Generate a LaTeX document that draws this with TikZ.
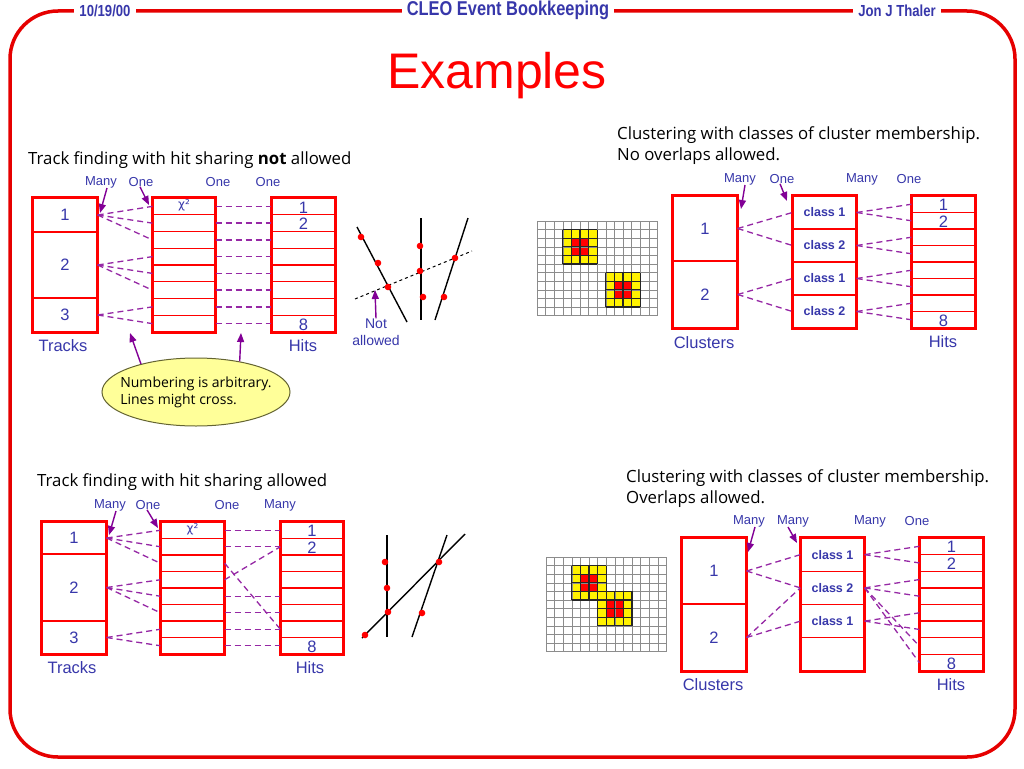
\documentclass[tikz,border=0pt]{standalone}
\usepackage{fontspec}
\setmainfont{Liberation Sans}
\newfontfamily\lsans{Liberation Sans}
\newfontfamily\dvsans{DejaVu Sans}
\newfontfamily\narrowfont[FakeStretch=0.82]{Liberation Sans}
\newfontfamily\comicfont{Open Sans}
\usetikzlibrary{arrows.meta,shapes.geometric}
\definecolor{tblue}{RGB}{55,55,170}
\definecolor{lpurple}{RGB}{150,40,165}
\definecolor{apurple}{RGB}{130,0,150}
\definecolor{noteyellow}{RGB}{255,255,153}
\definecolor{noteedge}{RGB}{100,100,50}
\definecolor{framered}{RGB}{230,0,0}
\begin{document}
\begin{tikzpicture}[x=1pt,y=-1pt,
  lbl/.style={text=tblue, font=\lsans\fontsize{13}{15}\selectfont, inner sep=0},
  num/.style={text=tblue, font=\lsans\fontsize{16.5}{18}\selectfont, inner sep=0},
  cls/.style={text=tblue, font=\lsans\bfseries\fontsize{12.5}{14}\selectfont, inner sep=0},
  chi/.style={text=tblue, font=\dvsans\fontsize{12}{14}\selectfont, inner sep=0},
  cell/.style={draw=red, line width=1.3pt, inner sep=0, minimum width=#1},
  bigbox/.style={draw=red, line width=3.5pt},
  link/.style={draw=lpurple, line width=1.3pt, dash pattern=on 6pt off 4pt},
  parrow/.style={draw=apurple, line width=1.4pt, -{Triangle[length=9pt,width=7pt]}},
  hdr/.style={fill=white, text=tblue, inner xsep=5pt, inner ysep=1pt},
  ttl/.style={anchor=west, font=\comicfont\fontsize{16.8}{21}\selectfont, align=left, inner sep=0},
  trk/.style={line width=1.4pt, black},
  gridline/.style={draw=black!45, line width=0.5pt},
  blockline/.style={draw=black!85, line width=1.1pt},
]
\path[use as bounding box, fill=white] (0,0) rectangle (1024,768);
% frame and header
\draw[framered, line width=3.5pt, rounded corners=48pt] (10,11) rectangle (1015,757);
\node[hdr, font=\narrowfont\bfseries\fontsize{16}{18}\selectfont] (hdate) at (105,11) {10/19/00};
\node[hdr, font=\narrowfont\bfseries\fontsize{20}{22}\selectfont] (htitle) at (508,10) {CLEO Event Bookkeeping};
\node[hdr, font=\narrowfont\bfseries\fontsize{16}{18}\selectfont] (hauth) at (897,11) {Jon J Thaler};
\node[text=red, font=\lsans\fontsize{50}{60}\selectfont, anchor=base] (title) at (497,88) {Examples};

% ================= top left
\node[ttl] (tlTitle) at (28,160) {Track finding with hit sharing \textbf{not} allowed};
\node[lbl] (tlMany) at (101,182) {Many};
\node[lbl] (tlOneA) at (141,182) {One};
\node[lbl] (tlOneB) at (218,182) {One};
\node[lbl] (tlOneC) at (268,182) {One};
\node[cell=64pt, minimum height=34pt, num] (tlT1) at (65,215) {1};
\node[cell=64pt, minimum height=66pt, num] (tlT2) at (65,265) {2};
\node[cell=64pt, minimum height=34pt, num] (tlT3) at (65,315) {3};
\foreach \i in {1,...,8} {
  \node[cell=62pt, minimum height=16.75pt] (tlM\i) at (184,{198+16.75*(\i-0.5)}) {};
  \node[cell=63pt, minimum height=16.75pt] (tlH\i) at (303.5,{198+16.75*(\i-0.5)}) {};
}
\draw[bigbox] (tlT1.north west) rectangle (tlT3.south east);
\draw[bigbox] (tlM1.north west) rectangle (tlM8.south east);
\draw[bigbox] (tlH1.north west) rectangle (tlH8.south east);
\node[chi] (tlChi) at ([yshift=1pt]tlM1) {χ²};
\node[num] (tlH1l) at ([yshift=-1pt]tlH1) {1};
\node[num] (tlH2l) at ([yshift=-1pt]tlH2) {2};
\node[num] (tlH8l) at ([yshift=-1pt]tlH8) {8};
\foreach \m in {1,2,3} \draw[link] (tlT1.east) -- (tlM\m.west);
\foreach \m in {4,5,6} \draw[link] (tlT2.east) -- (tlM\m.west);
\foreach \m in {7,8} \draw[link] (tlT3.east) -- (tlM\m.west);
\foreach \m in {1,...,8} \draw[link] (tlM\m.east) -- (tlH\m.west);
\coordinate (tlManyTip) at (100,213);
\draw[parrow] ([xshift=6pt]tlMany.south) -- (tlManyTip);
\coordinate (tlOneTip) at (149,205);
\draw[parrow] ([xshift=-1pt]tlOneA.south) -- (tlOneTip);
\node[num] (tlTracks) at (63,346) {Tracks};
\node[num] (tlHits) at (303,346) {Hits};
\node[ellipse, draw=noteedge, line width=1pt, fill=noteyellow, minimum width=188pt, minimum height=68pt, inner sep=0] (tlNote) at (196,392) {};
\node[align=left, inner sep=0, font=\comicfont\fontsize{14}{17}\selectfont] (tlNoteText) at (tlNote) {Numbering is arbitrary.\\Lines might cross.};
\coordinate (tlNoteTipA) at (130,333);
\coordinate (tlNoteTipB) at (241,333);
\draw[parrow] (tlNote.153) -- (tlNoteTipA);
\draw[parrow] (tlNote.35) -- (tlNoteTipB);
% track scene
\draw[trk] (357,227) -- (407,322);
\draw[trk] (421,218) -- (421,320);
\draw[trk] (468,218) -- (435,320);
\draw[line width=1pt, dashed] (355,299) -- (472,251);
\foreach \p in {(361,237),(378,263),(388,287),(420,246),(420,271),(423,297),(455,258),(444,297)}
  \fill[red] \p circle[radius=3.3pt];
\node[lbl, font=\lsans\fontsize{14}{17}\selectfont, align=center] (tlNot) at (376,332) {Not\\allowed};
\coordinate (tlNotTip) at (375,290);
\draw[parrow] (tlNot.north) -- (tlNotTip);

% ================= top right
\node[ttl] (trTitle) at (617,145.5) {Clustering with classes of cluster membership.\\No overlaps allowed.};
\node[lbl] (trManyA) at (740,179) {Many};
\node[lbl] (trOneA) at (782,179) {One};
\node[lbl] (trManyB) at (862,179) {Many};
\node[lbl] (trOneB) at (909,179) {One};
\node[cell=64pt, minimum height=65pt, num] (trC1) at (705,228.5) {1};
\node[cell=64pt, minimum height=67pt, num] (trC2) at (705,294.5) {2};
\foreach \i/\t in {1/class 1,2/class 2,3/class 1,4/class 2}
  \node[cell=63pt, minimum height=33pt, cls] (trK\i) at (824.5,{196+33*(\i-0.5)}) {\t};
\foreach \i in {1,...,8}
  \node[cell=63pt, minimum height=16.5pt] (trH\i) at (943.5,{196+16.5*(\i-0.5)}) {};
\draw[bigbox] (trC1.north west) rectangle (trC2.south east);
\draw[bigbox] (trK1.north west) rectangle (trK4.south east);
\draw[bigbox] (trH1.north west) rectangle (trH8.south east);
\node[num] (trH1l) at ([yshift=-1pt]trH1) {1};
\node[num] (trH2l) at ([yshift=-1pt]trH2) {2};
\node[num] (trH8l) at ([yshift=-1pt]trH8) {8};
\foreach \k in {1,2} \draw[link] (trC1.east) -- (trK\k.west);
\foreach \k in {3,4} \draw[link] (trC2.east) -- (trK\k.west);
\foreach \k/\a/\b in {1/1/2,2/3/4,3/5/6,4/7/8} {
  \draw[link] (trK\k.east) -- (trH\a.west);
  \draw[link] (trK\k.east) -- (trH\b.west);
}
\coordinate (trManyTip) at (741,209);
\draw[parrow] ([xshift=5pt]trManyA.south) -- (trManyTip);
\coordinate (trOneTip) at (787,201);
\draw[parrow] ([xshift=-2pt]trOneA.south) -- (trOneTip);
\node[num] (trClusters) at (704,343) {Clusters};
\node[num] (trHits) at (943,342) {Hits};
% grid top
\begin{scope}[shift={(537,221)}, x=8.6pt, y=-8.6pt]
  \fill[yellow] (3,1) rectangle (7,5);
  \fill[red] (4,2) rectangle (6,4);
  \fill[yellow] (8,6) rectangle (12,10);
  \fill[red] (9,7) rectangle (11,9);
  \foreach \i in {0,...,14} \draw[gridline] (\i,0) -- (\i,11);
  \foreach \j in {0,...,11} \draw[gridline] (0,\j) -- (14,\j);
  \foreach \i in {3,...,7} \draw[blockline] (\i,1) -- (\i,5);
  \foreach \j in {1,...,5} \draw[blockline] (3,\j) -- (7,\j);
  \foreach \i in {8,...,12} \draw[blockline] (\i,6) -- (\i,10);
  \foreach \j in {6,...,10} \draw[blockline] (8,\j) -- (12,\j);
\end{scope}

% ================= bottom left
\node[ttl] (blTitle) at (37,482) {Track finding with hit sharing allowed};
\node[lbl] (blManyA) at (110,505) {Many};
\node[lbl] (blOneA) at (148,505) {One};
\node[lbl] (blOneB) at (227,505) {One};
\node[lbl] (blManyB) at (280,505) {Many};
\node[cell=64pt, minimum height=32pt, num] (blT1) at (74,538) {1};
\node[cell=64pt, minimum height=67pt, num] (blT2) at (74,587.5) {2};
\node[cell=64pt, minimum height=33pt, num] (blT3) at (74,637.5) {3};
\foreach \i in {1,...,8} {
  \node[cell=63pt, minimum height=16.5pt] (blM\i) at (192.5,{522+16.5*(\i-0.5)}) {};
  \node[cell=62pt, minimum height=16.5pt] (blH\i) at (312,{522+16.5*(\i-0.5)}) {};
}
\draw[bigbox] (blT1.north west) rectangle (blT3.south east);
\draw[bigbox] (blM1.north west) rectangle (blM8.south east);
\draw[bigbox] (blH1.north west) rectangle (blH8.south east);
\node[chi] (blChi) at ([yshift=1pt]blM1) {χ²};
\node[num] (blH1l) at ([yshift=-1pt]blH1) {1};
\node[num] (blH2l) at ([yshift=-1pt]blH2) {2};
\node[num] (blH8l) at ([yshift=-1pt]blH8) {8};
\foreach \m in {1,2,3} \draw[link] (blT1.east) -- (blM\m.west);
\foreach \m in {4,5,6} \draw[link] (blT2.east) -- (blM\m.west);
\foreach \m in {7,8} \draw[link] (blT3.east) -- (blM\m.west);
\foreach \m/\h in {1/1,2/2,4/2,3/7,5/5,6/6,7/7,8/8} \draw[link] (blM\m.east) -- (blH\h.west);
\coordinate (blManyTip) at (109,535);
\draw[parrow] ([xshift=6pt]blManyA.south) -- (blManyTip);
\coordinate (blOneTip) at (158,528);
\draw[parrow] ([xshift=-1pt]blOneA.south) -- (blOneTip);
\node[num] (blTracks) at (72,668) {Tracks};
\node[num] (blHits) at (310,668) {Hits};
% track scene
\draw[trk] (387,535) -- (387,637);
\draw[trk] (362,638) -- (465,534);
\draw[trk] (412,637) -- (447,535);
\foreach \p in {(385,562),(387,588),(388,612),(365,635),(439,562),(422,613)}
  \fill[red] \p circle[radius=3.3pt];

% ================= bottom right
\node[ttl] (brTitle) at (626,488.5) {Clustering with classes of cluster membership.\\Overlaps allowed.};
\node[lbl] (brManyA) at (749,521) {Many};
\node[lbl] (brManyB) at (793,521) {Many};
\node[lbl] (brManyC) at (870,521) {Many};
\node[lbl] (brOneA) at (917,521) {One};
\node[cell=64pt, minimum height=66pt, num] (brC1) at (714,571) {1};
\node[cell=64pt, minimum height=67pt, num] (brC2) at (714,637.5) {2};
\foreach \i/\t in {1/class 1,2/class 2,3/class 1,4/{}}
  \node[cell=63pt, minimum height=33.25pt, cls] (brK\i) at (832.5,{538+33.25*(\i-0.5)}) {\t};
\foreach \i in {1,...,8}
  \node[cell=63pt, minimum height=16.625pt] (brH\i) at (951.5,{538+16.625*(\i-0.5)}) {};
\draw[bigbox] (brC1.north west) rectangle (brC2.south east);
\draw[bigbox] (brK1.north west) rectangle (brK4.south east);
\draw[bigbox] (brH1.north west) rectangle (brH8.south east);
\node[num] (brH1l) at ([yshift=-1pt]brH1) {1};
\node[num] (brH2l) at ([yshift=-1pt]brH2) {2};
\node[num] (brH8l) at ([yshift=-1pt]brH8) {8};
\draw[link] (brC1.east) -- (brK1.west);
\draw[link] (brC1.east) -- (brK2.west);
\draw[link] (brC2.east) -- (brK2.west);
\draw[link] (brC2.east) -- (brK3.west);
\foreach \k/\h in {1/1,1/2,2/3,2/4,2/7,2/8,3/5,3/6} \draw[link] (brK\k.east) -- (brH\h.west);
\coordinate (brManyTip) at (748,552);
\draw[parrow] ([xshift=6pt]brManyA.south) -- (brManyTip);
\coordinate (brManyTipB) at (797,543);
\draw[parrow] ([xshift=-5pt]brManyB.south) -- (brManyTipB);
\node[num] (brClusters) at (713,685) {Clusters};
\node[num] (brHits) at (951,685) {Hits};
% grid bottom
\begin{scope}[shift={(546,557)}, x=8.6pt, y=-8.6pt]
  \fill[yellow] (3,1) rectangle (7,5);
  \fill[yellow] (6,4) rectangle (10,8);
  \fill[red] (4,2) rectangle (6,4);
  \fill[red] (7,5) rectangle (9,7);
  \foreach \i in {0,...,14} \draw[gridline] (\i,0) -- (\i,11);
  \foreach \j in {0,...,11} \draw[gridline] (0,\j) -- (14,\j);
  \foreach \i in {3,...,7} \draw[blockline] (\i,1) -- (\i,5);
  \foreach \j in {1,...,5} \draw[blockline] (3,\j) -- (7,\j);
  \foreach \i in {6,...,10} \draw[blockline] (\i,4) -- (\i,8);
  \foreach \j in {4,...,8} \draw[blockline] (6,\j) -- (10,\j);
\end{scope}
\end{tikzpicture}
\end{document}
